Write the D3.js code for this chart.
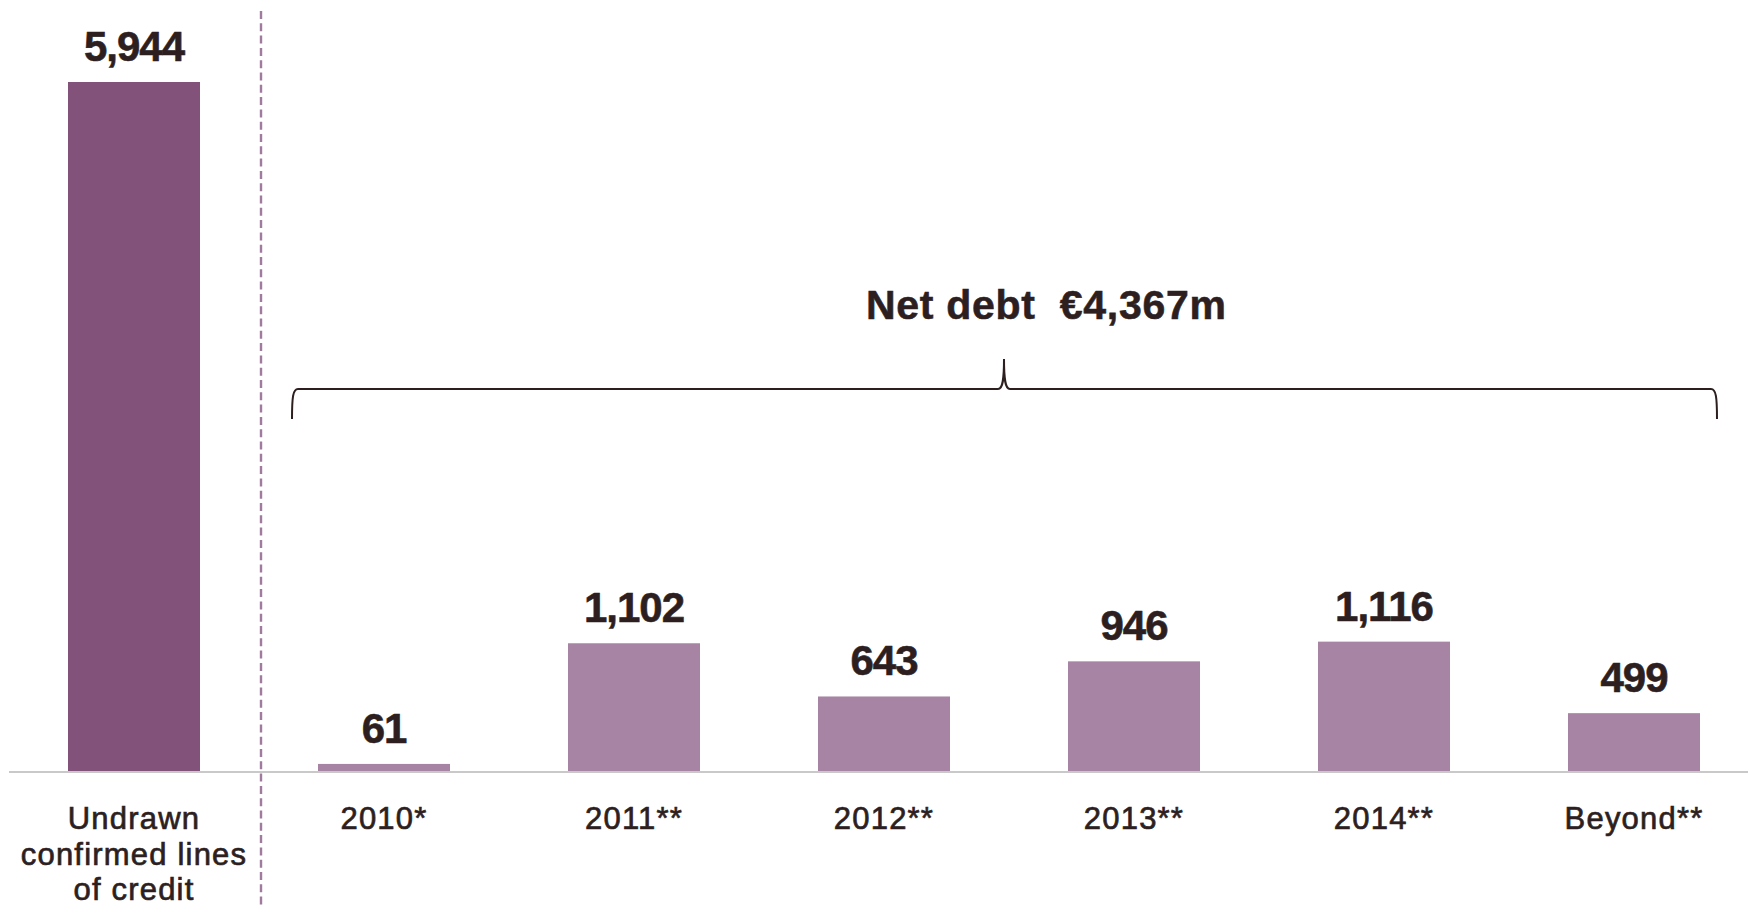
<!DOCTYPE html>
<html>
<head>
<meta charset="utf-8">
<script src="https://cdn.jsdelivr.net/npm/d3@7"></script>
<style>
  html, body { margin: 0; padding: 0; background: #ffffff; }
  svg { display: block; }
  text { font-family: "Liberation Sans", Arial, sans-serif; fill: #2d1f1f; }
</style>
</head>
<body>
<svg id="chart" width="1748" height="909"></svg>
<script>
// Categories and amounts (€m)
const categories = ["Undrawn confirmed lines of credit", "2010*", "2011**", "2012**", "2013**", "2014**", "Beyond**"];
const categoryLines = [["Undrawn", "confirmed lines", "of credit"], ["2010*"], ["2011**"], ["2012**"], ["2013**"], ["2014**"], ["Beyond**"]];
const values = [5944, 61, 1102, 643, 946, 1116, 499];
const valueLabels = ["5,944", "61", "1,102", "643", "946", "1,116", "499"];
const netDebtLabel = "Net debt  €4,367m";
const netDebtCategories = ["2010*", "2011**", "2012**", "2013**", "2014**", "Beyond**"];

const W = 1748, H = 909;
const baseY = 771, topY = 82;
const barW = 132;

const svg = d3.select("#chart");

const x = d3.scalePoint().domain(categories).range([9, 1759]).padding(0.5);
const y = d3.scaleLinear().domain([0, d3.max(values)]).range([baseY, topY]);

const colorCredit = "#83527a";
const colorDebt = "#a784a4";
const ink = "#2d1f1f";

// Bars
svg.append("g").selectAll("rect")
  .data(categories)
  .join("rect")
  .attr("x", d => x(d) - barW / 2)
  .attr("y", (d, i) => y(values[i]))
  .attr("width", barW)
  .attr("height", (d, i) => baseY - y(values[i]))
  .attr("fill", (d, i) => i === 0 ? colorCredit : colorDebt);

// Baseline
svg.append("line")
  .attr("x1", 9).attr("x2", W)
  .attr("y1", baseY + 1).attr("y2", baseY + 1)
  .attr("stroke", "#c9c9c9").attr("stroke-width", 2.2);

// Dashed divider between credit lines and debt maturities
const divX = (x(categories[0]) + x(categories[1])) / 2 + 2;
svg.append("line")
  .attr("x1", divX).attr("x2", divX)
  .attr("y1", 11).attr("y2", H)
  .attr("stroke", "#a07b9e").attr("stroke-width", 2.4)
  .attr("stroke-dasharray", "8,4.3");

// Value labels
svg.append("g").selectAll("text")
  .data(categories)
  .join("text")
  .attr("x", d => x(d))
  .attr("y", (d, i) => y(values[i]) - 21)
  .attr("text-anchor", "middle")
  .attr("font-size", 42)
  .attr("font-weight", "bold")
  .attr("letter-spacing", -1)
  .attr("stroke", ink).attr("stroke-width", 0.6)
  .text((d, i) => valueLabels[i]);

// Category labels
const catG = svg.append("g").selectAll("text")
  .data(categories)
  .join("text")
  .attr("x", d => x(d))
  .attr("y", 829)
  .attr("text-anchor", "middle")
  .attr("font-size", 31)
  .attr("letter-spacing", 1.2)
  .attr("stroke", ink).attr("stroke-width", 0.7);
catG.each(function(d, i) {
  const t = d3.select(this);
  categoryLines[i].forEach((line, k) => {
    t.append("tspan")
      .attr("x", x(d))
      .attr("dy", k === 0 ? 0 : 35.5)
      .text(line);
  });
});

// Brace spanning the debt maturities
const bL = x(netDebtCategories[0]) - barW / 2 - 26;
const bR = x(netDebtCategories[netDebtCategories.length - 1]) + barW / 2 + 17;
const bY = 389, bEnd = 419, tipX = 1004, tipY = 359;
const brace = d3.path();
brace.moveTo(bL, bEnd);
brace.bezierCurveTo(bL, bY + 8, bL + 1, bY, bL + 6, bY);
brace.lineTo(tipX - 6, bY);
brace.bezierCurveTo(tipX - 1, bY, tipX, bY - 10, tipX, tipY);
brace.bezierCurveTo(tipX, bY - 10, tipX + 1, bY, tipX + 6, bY);
brace.lineTo(bR - 6, bY);
brace.bezierCurveTo(bR - 1, bY, bR, bY + 8, bR, bEnd);
svg.append("path")
  .attr("d", brace.toString())
  .attr("fill", "none")
  .attr("stroke", ink)
  .attr("stroke-width", 2);

// Net debt caption
svg.append("text")
  .attr("x", 866)
  .attr("y", 319)
  .attr("font-size", 41)
  .attr("font-weight", "bold")
  .attr("letter-spacing", 0.7)
  .attr("stroke", ink).attr("stroke-width", 0.6)
  .attr("xml:space", "preserve")
  .style("white-space", "pre")
  .text(netDebtLabel);
</script>
</body>
</html>
